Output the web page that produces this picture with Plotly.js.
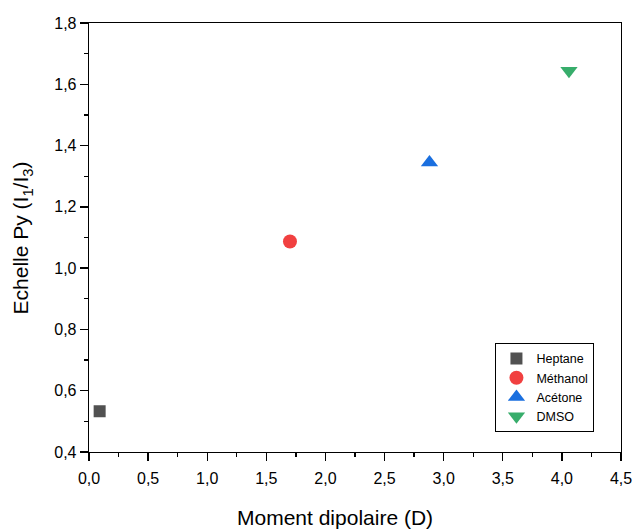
<!DOCTYPE html>
<html>
<head>
<meta charset="utf-8">
<script src="https://cdn.plot.ly/plotly-3.0.1.min.js"></script>
<style>html,body{margin:0;padding:0;background:#fff;}#chart{width:634px;height:531px;}</style>
</head>
<body>
<div id="chart"></div>
<script>
const solvents = ["Heptane", "Méthanol", "Acétone", "DMSO"];
const dipoleMoment = [0.09, 1.70, 2.88, 4.06];
const pyScale = [0.533, 1.087, 1.345, 1.644];
const colors = ["#515151", "#F14040", "#1A6FDF", "#37AD6B"];
const symbols = ["square", "circle", "triangle-up", "triangle-down"];
const sizes = [12, 14, 15, 15];
const xTickVals = [0, 0.5, 1, 1.5, 2, 2.5, 3, 3.5, 4, 4.5];
const xTickText = ["0,0","0,5","1,0","1,5","2,0","2,5","3,0","3,5","4,0","4,5"];
const yTickVals = [0.4, 0.6, 0.8, 1.0, 1.2, 1.4, 1.6, 1.8];
const yTickText = ["0,4","0,6","0,8","1,0","1,2","1,4","1,6","1,8"];
const xTitle = "Moment dipolaire (D)";
const yTitle = "Echelle Py (I<sub>1</sub>/I<sub>3</sub>)";

const traces = solvents.map((name, i) => ({
  type: "scatter",
  mode: "markers",
  name: name,
  x: [dipoleMoment[i]],
  y: [pyScale[i]],
  marker: {symbol: symbols[i], color: colors[i], size: sizes[i], line: {width: 0}}
}));

const font = "Arial, 'Liberation Sans', sans-serif";
const layout = {
  width: 634, height: 531,
  margin: {l: 89, r: 12.5, t: 23, b: 79, pad: 0},
  paper_bgcolor: "#fff", plot_bgcolor: "#fff",
  font: {family: font, color: "#000"},
  showlegend: true,
  legend: {
    x: 0.764, y: 0.047, xanchor: "left", yanchor: "bottom",
    bordercolor: "#000", borderwidth: 1, bgcolor: "#fff",
    font: {family: font, size: 12.5, color: "#000"},
    tracegroupgap: 0
  },
  xaxis: {
    range: [0, 4.5], tickmode: "array", tickvals: xTickVals, ticktext: xTickText,
    ticks: "outside", ticklen: 8, tickwidth: 1.3, tickcolor: "#000",
    ticklabelstandoff: 3,
    showline: true, linecolor: "#000", linewidth: 1.3, mirror: true,
    showgrid: false, zeroline: false,
    tickfont: {family: font, size: 16, color: "#000"},
    minor: {dtick: 0.25, tick0: 0, ticks: "outside", ticklen: 4, tickwidth: 1.3, tickcolor: "#000", showgrid: false},
    automargin: false
  },
  yaxis: {
    range: [0.4, 1.8], tickmode: "array", tickvals: yTickVals, ticktext: yTickText,
    ticks: "outside", ticklen: 8, tickwidth: 1.3, tickcolor: "#000",
    showline: true, linecolor: "#000", linewidth: 1.3, mirror: true,
    showgrid: false, zeroline: false,
    tickfont: {family: font, size: 16, color: "#000"},
    minor: {dtick: 0.1, tick0: 0.4, ticks: "outside", ticklen: 4, tickwidth: 1.3, tickcolor: "#000", showgrid: false},
    automargin: false
  },
  annotations: [
    {text: xTitle, xref: "paper", yref: "paper", x: 0.462, y: -0.153, xanchor: "center", yanchor: "middle",
     showarrow: false, font: {family: font, size: 21, color: "#000"}},
    {text: yTitle, xref: "paper", yref: "paper", x: -0.126, y: 0.5, xanchor: "center", yanchor: "middle",
     textangle: -90, showarrow: false, font: {family: font, size: 21, color: "#000"}}
  ]
};

Plotly.newPlot("chart", traces, layout, {displayModeBar: false, staticPlot: true});
</script>
</body>
</html>
